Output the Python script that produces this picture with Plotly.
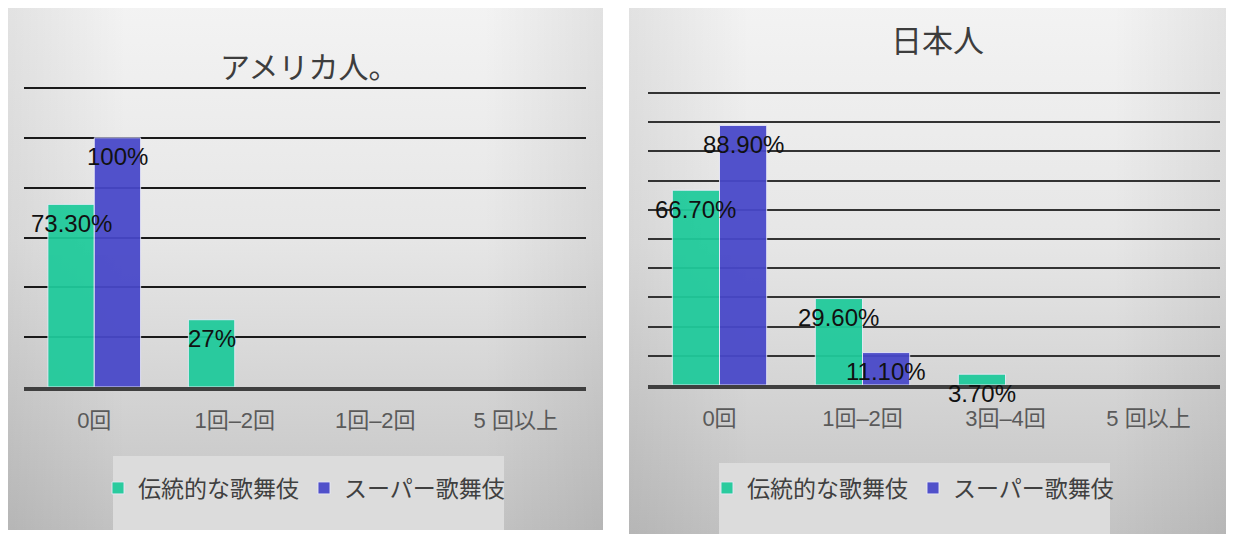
import base64
import plotly.graph_objects as go

# ---------------- data ----------------
categories_us = ["0回", "1回–2回", "1回–2回", "5 回以上"]
categories_jp = ["0回", "1回–2回", "3回–4回", "5 回以上"]
series_names = ["伝統的な歌舞伎", "スーパー歌舞伎"]

us_traditional = [73.3, 27.0, None, None]
us_super = [100.0, None, None, None]
us_traditional_labels = ["73.30%", "27%", "", ""]
us_super_labels = ["100%", "", "", ""]

jp_traditional = [66.7, 29.6, 3.7, None]
jp_super = [88.9, 11.1, None, None]
jp_traditional_labels = ["66.70%", "29.60%", "3.70%", ""]
jp_super_labels = ["88.90%", "11.10%", "", ""]

panel_titles = ["アメリカ人。", "日本人"]

# ---------------- styling ----------------
PAGE_OFF = 8            # default body margin of the html page
W, H = 1234 - PAGE_OFF, 534 - PAGE_OFF
GREEN = "#1fca9b"
BLUE = "#4848c9"
CJK = "Noto Sans CJK JP"
SANS = "Liberation Sans, Arial, Noto Sans CJK JP"


def X(px):
    return (px - PAGE_OFF) / W


def Y(py):
    return 1 - (py - PAGE_OFF) / H


svg = """<svg xmlns='http://www.w3.org/2000/svg' width='600' height='530' preserveAspectRatio='none'>
<defs>
<linearGradient id='v' x1='0' y1='0' x2='0' y2='1'>
<stop offset='0' stop-color='#f3f3f3'/><stop offset='0.45' stop-color='#e6e6e6'/><stop offset='1' stop-color='#c3c3c3'/>
</linearGradient>
<linearGradient id='h' x1='0' y1='0' x2='1' y2='0'>
<stop offset='0' stop-color='#000' stop-opacity='0.07'/><stop offset='0.2' stop-color='#000' stop-opacity='0'/>
<stop offset='0.8' stop-color='#000' stop-opacity='0'/><stop offset='1' stop-color='#000' stop-opacity='0.07'/>
</linearGradient>
</defs>
<rect width='600' height='530' fill='url(#v)'/><rect width='600' height='530' fill='url(#h)'/>
</svg>"""
bg_src = "data:image/svg+xml;base64," + base64.b64encode(svg.encode()).decode()

fig = go.Figure()

bar_w = 0.33
panels = [
    dict(xa="x", ya="y", legend="legend", cats=categories_us,
         series=[us_traditional, us_super], labels=[us_traditional_labels, us_super_labels]),
    dict(xa="x2", ya="y2", legend="legend2", cats=categories_jp,
         series=[jp_traditional, jp_super], labels=[jp_traditional_labels, jp_super_labels]),
]
colors = [GREEN, BLUE]
offsets = [-bar_w, 0.0]

annotations = []
for p in panels:
    for s, (vals, labs) in enumerate(zip(p["series"], p["labels"])):
        fig.add_trace(go.Bar(
            x=list(range(len(p["cats"]))), y=vals, name=series_names[s],
            width=bar_w, offset=offsets[s],
            marker=dict(color=colors[s], line=dict(color="rgba(235,235,250,0.9)", width=1)),
            opacity=0.94,
            xaxis=p["xa"], yaxis=p["ya"], legend=p["legend"], showlegend=True,
            hoverinfo="skip",
        ))
        for i, (v, t) in enumerate(zip(vals, labs)):
            if v is None or not t:
                continue
            annotations.append(dict(
                x=i + offsets[s] + bar_w / 2, y=v, xref=p["xa"], yref=p["ya"],
                text=t, showarrow=False, xanchor="center", yanchor="middle", yshift=-19,
                font=dict(family=SANS, size=24, color="#111111"),
            ))

annotations.append(dict(x=X(309), y=Y(65), xref="paper", yref="paper", text=panel_titles[0],
                        xanchor="center", yanchor="middle", showarrow=False,
                        font=dict(family=CJK, size=30, color="#3d3d3d")))
annotations.append(dict(x=X(937), y=Y(38), xref="paper", yref="paper", text=panel_titles[1],
                        xanchor="center", yanchor="middle", showarrow=False,
                        font=dict(family=CJK, size=31, color="#3d3d3d")))

shapes = [
    dict(type="rect", xref="paper", yref="paper", x0=X(113), x1=X(504), y0=Y(530), y1=Y(456),
         fillcolor="#dcdcdc", line=dict(width=0), layer="below"),
    dict(type="rect", xref="paper", yref="paper", x0=X(719), x1=X(1110), y0=Y(534), y1=Y(463),
         fillcolor="#dcdcdc", line=dict(width=0), layer="below"),
]

images = [
    dict(source=bg_src, xref="paper", yref="paper", x=X(7), y=Y(4), sizex=X(603) - X(7),
         sizey=Y(4) - Y(530), sizing="stretch", layer="below", xanchor="left", yanchor="top"),
    dict(source=bg_src, xref="paper", yref="paper", x=X(629), y=Y(4), sizex=X(1234) - X(629),
         sizey=Y(4) - Y(534), sizing="stretch", layer="below", xanchor="left", yanchor="top"),
]

xcommon = dict(range=[-0.5, 3.5], tickmode="array", tickvals=[0, 1, 2, 3], showgrid=False,
               zeroline=False, showline=True, linewidth=4, linecolor="#3f3f3f", ticks="",
               ticklabelstandoff=11, tickfont=dict(family=SANS, size=22, color="#5a5a5a"),
               fixedrange=True)
ycommon = dict(showticklabels=False, zeroline=False, showline=False, ticks="",
               gridwidth=2, fixedrange=True)

# y ranges extended a little so the top gridline is not dropped at the edge
us_top, jp_top = 121.5, 101.5
us_px = (387 - 88) / 120
jp_px = (385 - 93) / 100

fig.update_layout(
    width=W, height=H, margin=dict(l=0, r=0, t=0, b=0),
    paper_bgcolor="white", plot_bgcolor="rgba(0,0,0,0)",
    barmode="overlay",
    xaxis=dict(**xcommon, domain=[X(24), X(586)], ticktext=categories_us, anchor="y"),
    yaxis=dict(**ycommon, domain=[Y(387), Y(387 - us_top * us_px)], range=[0, us_top], dtick=20,
               gridcolor="#1a1a1a", anchor="x"),
    xaxis2=dict(**xcommon, domain=[X(648), X(1220)], ticktext=categories_jp, anchor="y2"),
    yaxis2=dict(**ycommon, domain=[Y(385), Y(385 - jp_top * jp_px)], range=[0, jp_top], dtick=10,
                gridcolor="#333333", anchor="x2"),
    legend=dict(orientation="h", x=X(98), y=Y(488), xanchor="left", yanchor="middle",
                bgcolor="rgba(0,0,0,0)", itemwidth=30,
                font=dict(family=CJK, size=23, color="#404040")),
    legend2=dict(orientation="h", x=X(707), y=Y(488), xanchor="left", yanchor="middle",
                 bgcolor="rgba(0,0,0,0)", itemwidth=30,
                 font=dict(family=CJK, size=23, color="#404040")),
    annotations=annotations, shapes=shapes, images=images,
    showlegend=True,
)

fig.write_html("out.html")
